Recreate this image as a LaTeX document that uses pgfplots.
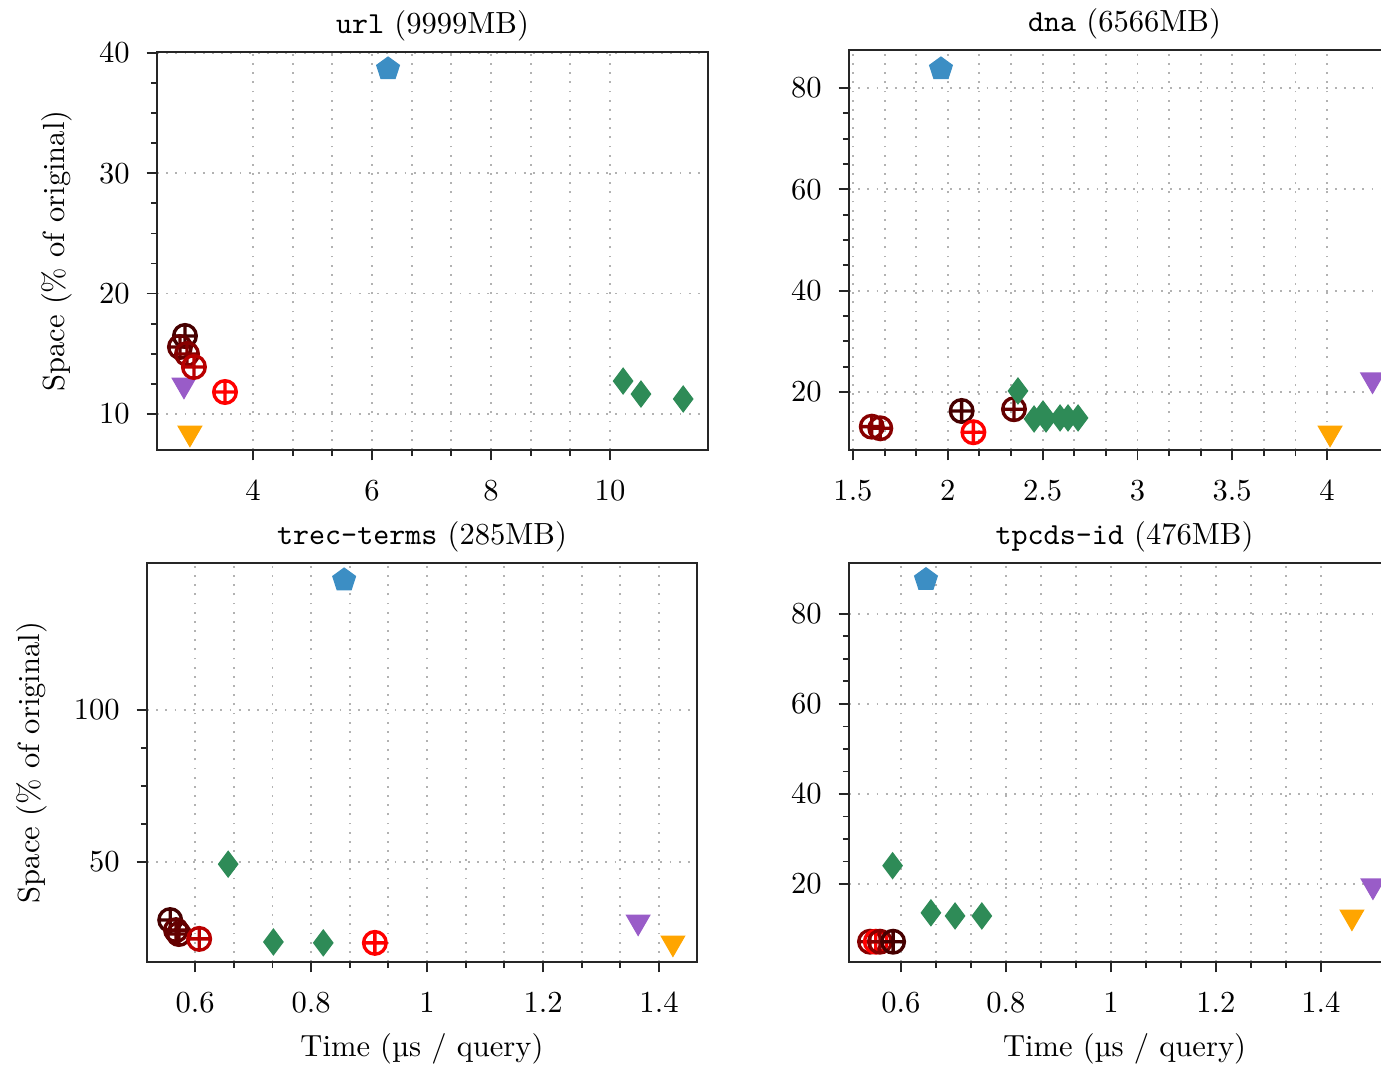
\documentclass[border=0pt]{standalone}
\usepackage{fontspec}
\usepackage{pgfplots}
\pgfplotsset{compat=1.18}
\usetikzlibrary{plotmarks}

\definecolor{cblue}{RGB}{60,142,196}
\definecolor{cgreen}{RGB}{46,139,87}
\definecolor{corange}{RGB}{255,165,0}
\definecolor{cpurple}{RGB}{153,92,200}
\definecolor{rA}{RGB}{70,0,0}
\definecolor{rB}{RGB}{100,0,0}
\definecolor{rC}{RGB}{135,0,0}
\definecolor{rD}{RGB}{185,0,0}
\definecolor{rE}{RGB}{255,0,0}

\pgfplotsset{
  panel/.style={
    scale only axis, clip=false,
    axis line style={black!85, line width=0.8pt},
    tick pos=left, tick align=outside,
    tick style={black!85, line width=0.6pt},
    major tick length=0.12cm, minor tick length=0.07cm,
    xmajorgrids, xminorgrids, ymajorgrids,
    minor x tick num=2, minor y tick num=3,
    grid style={gray!60, line width=0.6pt, dash pattern=on 0.6pt off 2.4pt},
    title style={yshift=-6pt},
    tick label style={font=\normalsize},
    xticklabel style={yshift=-3pt},
    yticklabel style={xshift=-2pt},
    label style={font=\normalsize},
    ylabel shift=2pt,
  },
  pent/.style={only marks, mark=pentagon*, mark size=3.9pt, color=cblue},
  dia/.style={only marks, mark=diamond*, mark size=4.2pt, color=cgreen},
  tri/.style={only marks, mark=triangle*, mark size=4.4pt, mark options={rotate=180}, color=#1},
  circ/.style={only marks, mark=oplus, mark size=3.7pt, line width=1.1pt, color=#1},
}

\begin{document}
\begin{tikzpicture}
% url
\begin{axis}[panel, at={(1.8055cm,-0.598cm)}, anchor=north west,
  width=6.3365cm, height=4.577cm,
  xmin=2.387, xmax=11.647, ymin=7.0, ymax=40.08,
  xtick={4,6,8,10}, ytick={10,20,30,40},
  title={\texttt{url} (9999MB)},
  ylabel={Space (\% of original)}]
\addplot[pent] coordinates {(6.27,38.67)};
\addplot[tri=cpurple] coordinates {(2.84,12.4)};
\addplot[tri=corange] coordinates {(2.94,8.41)};
\addplot[circ=rA] coordinates {(2.857,16.48)};
\addplot[circ=rB] coordinates {(2.773,15.56)};
\addplot[circ=rC] coordinates {(2.891,14.98)};
\addplot[circ=rD] coordinates {(3.008,13.90)};
\addplot[circ=rE] coordinates {(3.53,11.82)};
\addplot[dia] coordinates {(10.22,12.73) (10.52,11.65) (11.23,11.24)};
\end{axis}
% dna
\begin{axis}[panel, at={(9.7635cm,-0.575cm)}, anchor=north west,
  width=6.3365cm, height=4.6cm,
  xmin=1.479, xmax=4.385, ymin=8.55, ymax=87.5,
  xtick={1.5,2,2.5,3,3.5,4}, ytick={20,40,60,80},
  title={\texttt{dna} (6566MB)}]
\addplot[pent] coordinates {(1.964,83.75)};
\addplot[tri=cpurple] coordinates {(4.24,22.4)};
\addplot[tri=corange] coordinates {(4.016,11.9)};
\addplot[circ=rC] coordinates {(1.599,13.15)};
\addplot[circ=rC] coordinates {(1.644,12.83)};
\addplot[circ=rA] coordinates {(2.073,16.25)};
\addplot[circ=rB] coordinates {(2.349,16.6)};
\addplot[circ=rE] coordinates {(2.135,12.05)};
\addplot[dia] coordinates {(2.370,20.2) (2.455,14.67) (2.502,15.66) (2.518,14.67) (2.592,14.87) (2.634,14.87) (2.687,14.87)};
\end{axis}
% trec-terms
\begin{axis}[panel, at={(1.6905cm,-6.4745cm)}, anchor=north west,
  width=6.325cm, height=4.5885cm,
  xmin=0.517, xmax=1.4655, ymin=17.1, ymax=148.4,
  xtick={0.6,0.8,1,1.2,1.4}, ytick={50,100},
  title={\texttt{trec-terms} (285MB)},
  ylabel={Space (\% of original)},
  xlabel={Time (µs / query)}]
\addplot[pent] coordinates {(0.857,142.8)};
\addplot[tri=cpurple] coordinates {(1.364,30.3)};
\addplot[tri=corange] coordinates {(1.424,23.4)};
\addplot[circ=rA] coordinates {(0.557,30.9)};
\addplot[circ=rB] coordinates {(0.567,27.6)};
\addplot[circ=rB] coordinates {(0.572,26.3)};
\addplot[circ=rD] coordinates {(0.607,24.7)};
\addplot[circ=rE] coordinates {(0.910,23.4)};
\addplot[dia] coordinates {(0.657,49.3) (0.735,23.7) (0.821,23.4)};
\end{axis}
% tpcds-id
\begin{axis}[panel, at={(9.7635cm,-6.4745cm)}, anchor=north west,
  width=6.3365cm, height=4.5885cm,
  xmin=0.501, xmax=1.5506, ymin=2.67, ymax=91.3,
  xtick={0.6,0.8,1,1.2,1.4}, ytick={20,40,60,80},
  title={\texttt{tpcds-id} (476MB)},
  xlabel={Time (µs / query)}]
\addplot[pent] coordinates {(0.6476,87.6)};
\addplot[tri=cpurple] coordinates {(1.499,19.6)};
\addplot[tri=corange] coordinates {(1.459,12.7)};
\addplot[circ=rC] coordinates {(0.541,7.18)};
\addplot[circ=rE] coordinates {(0.552,7.18)};
\addplot[circ=rC] coordinates {(0.560,7.18)};
\addplot[circ=rA] coordinates {(0.585,7.18)};
\addplot[dia] coordinates {(0.584,24.07) (0.657,13.6) (0.703,12.9) (0.754,12.9)};
\end{axis}
\pgfresetboundingbox
\useasboundingbox (0,0) rectangle (15.8815,-12.2705);
\end{tikzpicture}
\end{document}
